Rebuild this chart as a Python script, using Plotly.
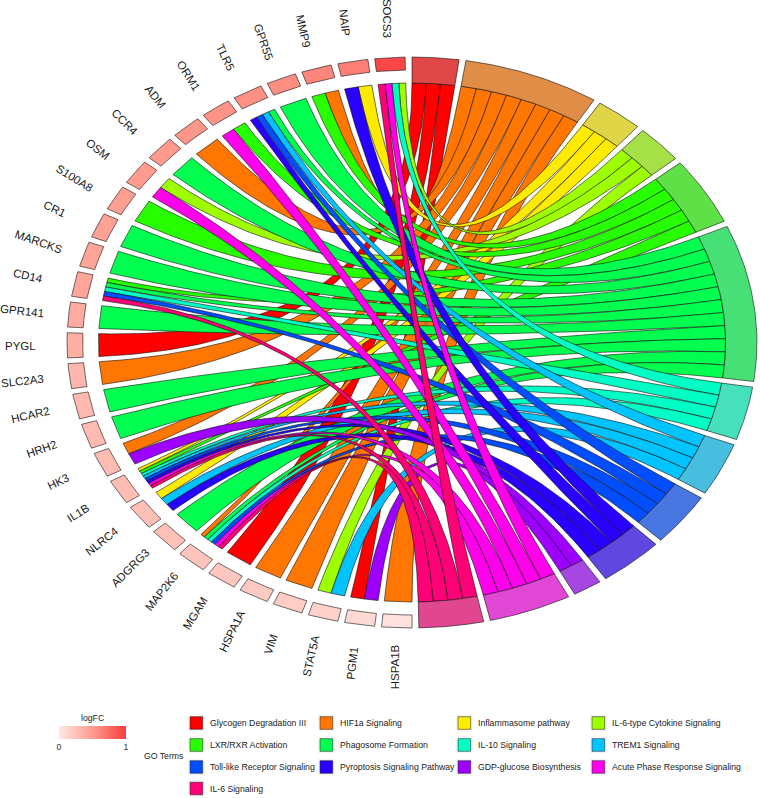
import numpy as np
import plotly.graph_objects as go
from plotly.colors import sample_colorscale

# genes from the top of the circle going anticlockwise
genes = ["SOCS3", "NAIP", "MMP9", "GPR55", "TLR5", "ORM1", "ADM", "CCR4", "OSM", "S100A8",
         "CR1", "MARCKS", "CD14", "GPR141", "PYGL", "SLC2A3", "HCAR2", "HRH2", "HK3", "IL1B",
         "NLRC4", "ADGRG3", "MAP2K6", "MGAM", "HSPA1A", "VIM", "STAT5A", "PGM1", "HSPA1B"]
logfc = [0.94, 0.65, 0.62, 0.58, 0.56, 0.54, 0.53, 0.51, 0.50, 0.48,
         0.46, 0.45, 0.44, 0.40, 0.37, 0.33, 0.31, 0.30, 0.29, 0.28,
         0.27, 0.26, 0.24, 0.22, 0.20, 0.18, 0.15, 0.10, 0.04]

terms = ["Glycogen Degradation III", "HIF1a Signaling", "Inflammasome pathway", "IL-6-type Cytokine Signaling",
         "LXR/RXR Activation", "Phagosome Formation", "IL-10 Signaling", "TREM1 Signaling",
         "Toll-like Receptor Signaling", "Pyroptosis Signaling Pathway", "GDP-glucose Biosynthesis",
         "Acute Phase Response Signaling", "IL-6 Signaling"]
term_colors = ["#FF0000", "#FF7600", "#FFEB00", "#9DFF00", "#27FF00", "#00FF4E", "#00FFC4",
               "#00C4FF", "#004EFF", "#2700FF", "#9D00FF", "#FF00EB", "#FF0076"]

# member genes of each term
glycogen = ["PYGL", "MGAM", "PGM1"]
hif1a = ["MMP9", "ADM", "SLC2A3", "HK3", "MAP2K6", "HSPA1A", "VIM", "HSPA1B"]
inflammasome = ["NAIP", "IL1B", "NLRC4"]
il6_type = ["SOCS3", "OSM", "STAT5A"]
lxr = ["MMP9", "ORM1", "S100A8", "CD14", "IL1B"]
phagosome = ["GPR55", "TLR5", "CCR4", "CR1", "MARCKS", "CD14", "GPR141", "HCAR2", "HRH2", "MAP2K6", "ADGRG3"]
il10 = ["SOCS3", "CD14", "IL1B", "MAP2K6"]
trem1 = ["TLR5", "IL1B", "NLRC4", "STAT5A"]
toll = ["TLR5", "CD14", "IL1B", "MAP2K6"]
pyroptosis = ["NAIP", "TLR5", "IL1B", "NLRC4"]
gdp = ["HK3", "PGM1"]
acute = ["SOCS3", "ORM1", "OSM", "IL1B", "MAP2K6"]
il6 = ["SOCS3", "CD14", "IL1B", "MAP2K6"]
term_genes = [glycogen, hif1a, inflammasome, il6_type, lxr, phagosome, il10, trem1, toll, pyroptosis, gdp, acute, il6]

W, H = 760, 798
CX, CY = 412, 342.5      # circle centre in pixels
UX, UY = 313.6, 259.5    # pixels per unit (the circle is drawn as an ellipse)
SPACE = 0.02
R1, RG, R2 = 1.0, 1.05, 1.1

fc_scale = [[0, "#FFE8E4"], [0.5, "#FF9C8F"], [1, "#F83C3C"]]


def arc_band(a0, a1, r_in, r_out):
    t = np.linspace(a0, a1, 50)
    x = np.r_[r_in * np.sin(t), r_out * np.sin(t[::-1]), r_in * np.sin(a0)]
    y = np.r_[r_in * np.cos(t), r_out * np.cos(t[::-1]), r_in * np.cos(a0)]
    return x, y


def bezier(a0, a1):
    # quadratic curve with its control point in the centre
    t = np.linspace(0, 1, 101)
    return (1 - t) ** 2 * np.sin(a0) + t ** 2 * np.sin(a1), (1 - t) ** 2 * np.cos(a0) + t ** 2 * np.cos(a1)


def blend(hex_col, alpha=0.6, grey=179):
    rgb = [int(hex_col[i:i + 2], 16) for i in (1, 3, 5)]
    return "rgb(%d,%d,%d)" % tuple(alpha * c + (1 - alpha) * grey for c in rgb)


nrib = [len(g) for g in term_genes]
total = sum(nrib)
term_start = np.r_[0, np.cumsum(nrib)[:-1]] * np.pi / total
term_width = np.array(nrib) * np.pi / total - SPACE

ngene = len(genes)
gene_start = np.linspace(-SPACE, -np.pi + np.pi / ngene - SPACE, ngene)
gene_width = -np.pi / ngene + SPACE

fig = go.Figure()

# where each ribbon lands on the gene side
strips = {t: [] for t in range(len(terms))}
for g, name in enumerate(genes):
    members = [t for t in range(len(terms)) if name in term_genes[t]]
    edges = np.linspace(gene_start[g], gene_start[g] + gene_width, len(members) + 1)
    for k, t in enumerate(members):
        strips[t].append((edges[k], edges[k + 1]))

line = dict(color="#111111", width=0.6)

for t in range(len(terms)):
    edges = np.linspace(term_start[t], term_start[t] + term_width[t], nrib[t] + 1)
    for k, (g0, g1) in enumerate(strips[t]):
        x0, y0 = bezier(edges[k], g0)
        x1, y1 = bezier(edges[k + 1], g1)
        fig.add_trace(go.Scatter(x=np.r_[x0, x1[::-1], x0[0]], y=np.r_[y0, y1[::-1], y0[0]], mode="lines",
                                 fill="toself", fillcolor=term_colors[t], line=line, hoverinfo="skip"))

for t in range(len(terms)):
    x, y = arc_band(term_start[t], term_start[t] + term_width[t], R1, R2)
    fig.add_trace(go.Scatter(x=x, y=y, mode="lines", fill="toself", fillcolor=blend(term_colors[t]),
                             line=line, hoverinfo="skip"))

for g in range(ngene):
    x, y = arc_band(gene_start[g], gene_start[g] + gene_width, RG, R2)
    col = sample_colorscale(fc_scale, logfc[g])[0]
    fig.add_trace(go.Scatter(x=x, y=y, mode="lines", fill="toself", fillcolor=col, line=line, hoverinfo="skip"))

# invisible points, only here for the logFC colour bar
fig.add_trace(go.Scatter(x=[0] * ngene, y=[0] * ngene, mode="markers", hoverinfo="skip",
                         marker=dict(size=1, opacity=0, color=logfc, cmin=0, cmax=1, colorscale=fc_scale,
                                     colorbar=dict(orientation="h", x=59 / W, xanchor="left", y=1 - 726 / H,
                                                   yanchor="top", len=67, lenmode="pixels", thickness=13,
                                                   thicknessmode="pixels", xpad=0, ypad=0, outlinewidth=0,
                                                   tickvals=[0, 1], ticks="", ticklabelposition="outside bottom",
                                                   tickfont=dict(family="Liberation Sans", size=8.7, color="#333333")))))

annotations = []
for g, name in enumerate(genes):
    mid = gene_start[g] + gene_width / 2
    ang = 180 * g / (ngene - 1)
    # ggplot angle runs anticlockwise, plotly clockwise
    rot = 90 - ang
    annotations.append(dict(x=1.25 * np.sin(mid), y=1.25 * np.cos(mid), text=name, textangle=rot, showarrow=False,
                            xanchor="center", yanchor="middle",
                            font=dict(family="Liberation Sans", size=11.5, color="#1a1a1a")))


def px_text(x, y, text, anchor="left"):
    annotations.append(dict(x=x / W, y=1 - y / H, xref="paper", yref="paper", text=text, showarrow=False,
                            xanchor=anchor, yanchor="middle", xshift=-1 if anchor == "left" else 0,
                            font=dict(family="Liberation Sans", size=8.7, color="#222222")))


px_text(92, 718, "logFC", "center")
px_text(143, 756, "GO Terms")

shapes = []
key_x = [190, 320, 458, 592]
row_y = [723, 745, 767, 788.5]
for t, name in enumerate(terms):
    kx = key_x[t % 4]
    ky = row_y[t // 4]
    # pale key background first, then the swatch
    shapes.append(dict(type="rect", xref="paper", yref="paper", x0=(kx - 2) / W, x1=(kx + 14.7) / W,
                       y0=1 - (ky - 8.3) / H, y1=1 - (ky + 8.3) / H, fillcolor="#F5F5F5", line=dict(width=0)))
    shapes.append(dict(type="rect", xref="paper", yref="paper", x0=kx / W, x1=(kx + 12.7) / W,
                       y0=1 - (ky - 6.3) / H, y1=1 - (ky + 6.3) / H, fillcolor=term_colors[t],
                       line=dict(color="rgba(40,40,40,0.7)", width=0.8)))
    px_text(kx + 19.3, ky, name)

fig.update_layout(
    width=W, height=H, showlegend=False, paper_bgcolor="white", plot_bgcolor="white",
    margin=dict(l=0, r=0, t=0, b=0), annotations=annotations, shapes=shapes,
    xaxis=dict(range=[-CX / UX, (W - CX) / UX], visible=False, fixedrange=True),
    yaxis=dict(range=[-(H - CY) / UY, CY / UY], visible=False, fixedrange=True),
)

# the page's default body margin would shift everything by 8px
fig.write_html("out.html", config={"displayModeBar": False},
               post_script="document.body.style.margin='0';")
